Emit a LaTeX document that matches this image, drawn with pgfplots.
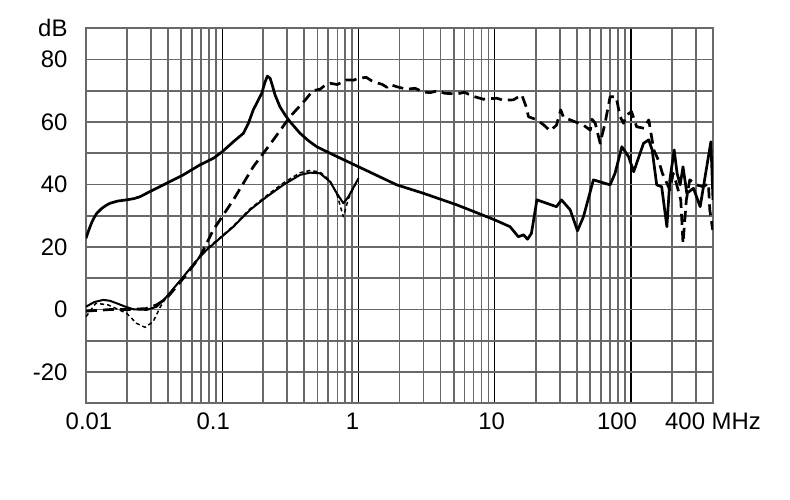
\documentclass[border=0pt]{standalone}
\usepackage{fontspec}
\setmainfont{Liberation Sans}
\usepackage{pgfplots}
\pgfplotsset{compat=1.18}
\definecolor{gridgray}{RGB}{105,105,105}
\begin{document}
\begin{tikzpicture}
\useasboundingbox (-86bp,-96bp) rectangle (704bp,403.3bp);
\begin{axis}[
  scale only axis,
  width=627bp, height=375bp,
  xmode=log,
  xmin=0.01, xmax=400,
  ymin=-30, ymax=90,
  xtick={0.1,1,10,100},
  xticklabels={\kern-18bp 0.1,\kern-12bp 1,\kern-6bp 10,\kern-28bp 100},
  extra x ticks={0.01,400},
  extra x tick labels={0.01\kern-6bp,400 MHz},
  extra x tick style={grid=none},
  minor xtick={0.02,0.03,0.04,0.05,0.06,0.07,0.08,0.09,0.2,0.3,0.4,0.5,0.6,0.7,0.8,0.9,2,3,4,5,6,7,8,9,20,30,40,50,60,70,80,90,200,300},
  ytick={-20,0,20,40,60,80,90},
  yticklabels={-20,0,20,40,60,80,dB},
  minor ytick={-20,-10,0,10,20,30,40,50,60,70,80},
  xmajorgrids=true, xminorgrids=true,
  ymajorgrids=false, yminorgrids=true,
  major grid style={black, line width=1.1bp},
  minor grid style={gridgray, line width=1.6bp},
  major tick length=0pt, minor tick length=0pt,
  axis line style={gridgray, line width=1.6bp},
  tick label style={font=\fontsize{24}{28}\selectfont, text=black},
  /pgf/number format/assume math mode=true,
  xticklabel style={yshift=-6bp},
  yticklabel style={xshift=-15bp},
  every axis plot/.append style={mark=none, black, line join=round},
]
% upper solid
\addplot[line width=2.7bp] coordinates {
(0.01,22.8)(0.0105,25.5)(0.011,27.8)(0.0115,29.5)(0.012,30.8)(0.013,32.3)(0.014,33.3)(0.015,34.0)(0.017,34.7)(0.0199,35.1)(0.0225,35.5)(0.0249,36.1)(0.0312,38.3)(0.0391,40.4)(0.0518,43.1)(0.0687,46.3)(0.0861,48.4)(0.1,50.5)(0.1207,53.7)(0.143,56.4)(0.1556,59.6)(0.169,63.9)(0.195,69.2)(0.205,72.5)(0.2144,74.7)(0.2247,74.0)(0.234,71.5)(0.244,68.7)(0.2652,64.9)(0.29,62.2)(0.3146,60.1)(0.3727,56.4)(0.43,54.0)(0.494,52.1)(0.654,49.5)(1.0,45.7)(1.91,39.9)(2.996,37.2)(5.27,33.5)(10,28.7)(12.97,26.5)(14.9,23.3)(16.3,23.9)(17.4,22.5)(18.6,24.4)(20.4,35.1)(24.1,34.0)(28.4,32.9)(30.9,35.1)(35.8,31.9)(40.5,25.2)(44.8,29.7)(53.0,41.5)(70.3,39.9)(76.4,43.6)(85.7,52.1)(96.1,48.9)(104.7,44.1)(123.7,53.2)(135,54.3)(143,51.1)(154.5,39.9)(168,39.3)(183.5,26.5)(193,41.5)(207.5,51.1)(218,43.6)(229.6,39.9)(241,45.7)(257,37.2)(287.6,38.8)(322,32.9)(350,42.5)(386,53.7)(400,35.1)
};
% dashed
\addplot[line width=2.7bp, dash pattern=on 11bp off 6bp] coordinates {
(0.01,-0.5)(0.015,0)(0.02,0)(0.0275,0.3)(0.033,1.5)(0.0391,3.6)(0.0518,10)(0.0687,16.9)(0.0727,19.1)(0.086,25.5)(0.1207,35.1)(0.169,45.7)(0.2372,54.3)(0.3146,61.7)(0.417,67.6)(0.46,70.0)(0.522,70.5)(0.57,71.8)(0.62,72.4)(0.7,72.0)(0.82,73.5)(0.92,73.4)(1.0,74.0)(1.14,74.3)(1.25,73.2)(1.36,72.6)(1.5,72.0)(1.62,71.1)(1.706,72.0)(1.91,71.3)(2.26,70.5)(2.6,70.8)(3.0,69.6)(3.36,69.4)(3.8,70.0)(4.3,69.2)(5.27,69.0)(6.0,69.5)(7.0,68.2)(8.26,67.3)(9.0,67.5)(10.4,67.6)(11.5,67.0)(13.7,67.1)(15.8,68.7)(17.0,64.9)(17.7,61.7)(20.4,60.7)(23,59)(25.5,57.2)(28.4,59.0)(30.5,63.9)(32,61.5)(35.8,60.7)(44.8,59.0)(50.3,57.4)(51.8,60.9)(54.7,59.6)(59.4,53.2)(64.5,59.6)(70.3,68.1)(77.8,68.1)(83.3,61.7)(88.1,59.6)(93.2,62.3)(101,63.3)(110,58.5)(125,58.0)(135,60.7)(147,51.1)(160,47.5)(170,43.6)(193,38.3)(204,43.6)(215,40.5)(232,35.1)(241,21.2)(255,35.1)(270,41.5)(303,39.9)(340,39.3)(370,40.4)(379,31.9)(398,25.5)
};
% lower solid
\addplot[line width=2bp] coordinates {
(0.01,0.9)(0.0115,2.4)(0.0134,3.1)(0.015,2.8)(0.0168,2.0)(0.0195,0.9)(0.0222,0.1)(0.0279,-0.1)(0.033,0.9)(0.0391,4.1)(0.0518,10.5)(0.0687,16.9)(0.0769,19.1)(0.0963,22.8)(0.1207,26.5)(0.16,31.9)(0.2123,36.1)(0.281,39.9)(0.3727,43.1)(0.441,43.8)(0.522,43.6)(0.619,40.9)(0.693,37.2)(0.775,34.0)(0.843,36.1)(1.0,42.0)
};
% dotted
\addplot[line width=1.5bp, dash pattern=on 4bp off 3bp] coordinates {
(0.01,-2.3)(0.0118,2.0)(0.0145,1.5)(0.0199,-1.2)(0.0235,-4.4)(0.0271,-5.7)(0.0311,-3.9)(0.0352,0.9)(0.0391,4.1)(0.0518,10.5)(0.0687,17.2)(0.0769,19.5)(0.0963,23.0)(0.1207,26.8)(0.16,32.2)(0.2123,36.5)(0.281,40.5)(0.3727,43.8)(0.441,44.5)(0.522,44.0)(0.619,41.2)(0.693,37.0)(0.775,29.7)(0.843,35.5)(1.0,42.0)
};
\end{axis}
\end{tikzpicture}
\end{document}
